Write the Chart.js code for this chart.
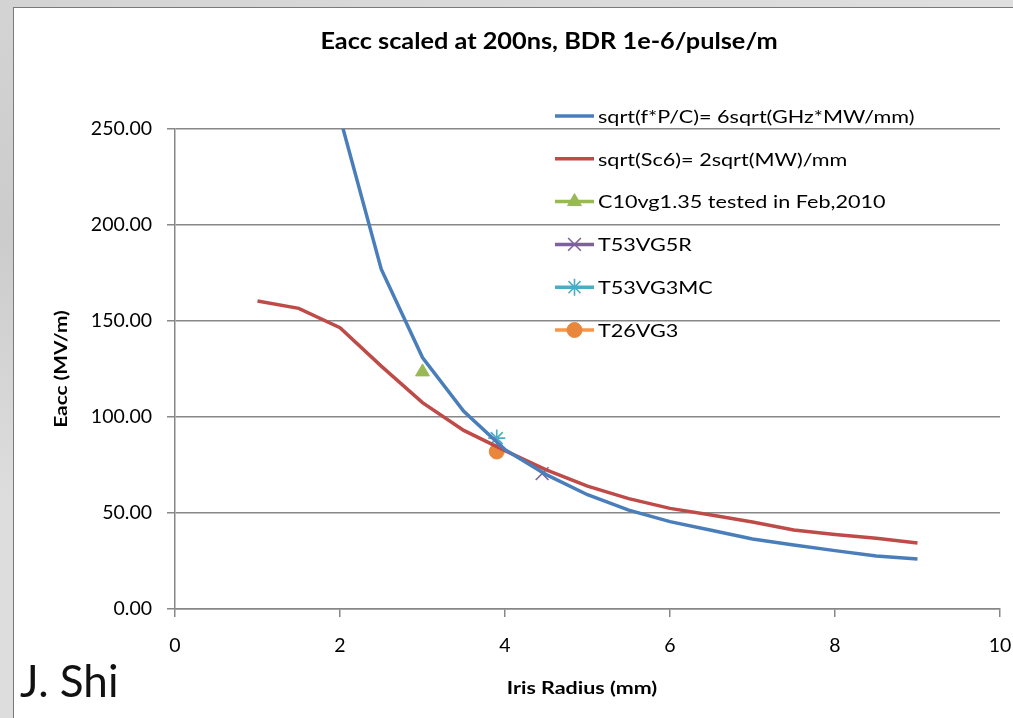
<!DOCTYPE html>
<html>
<head>
<meta charset="utf-8">
<script src="https://cdn.jsdelivr.net/npm/chart.js@4.4.1/dist/chart.umd.min.js"></script>
<style>
  html, body { margin: 0; padding: 0; }
  body {
    width: 1013px; height: 718px; overflow: hidden; position: relative;
    background:
      linear-gradient(200deg, rgba(255,255,255,0.25) 0%, rgba(255,255,255,0) 30%, rgba(160,160,160,0.18) 55%, rgba(255,255,255,0.2) 80%),
      #d5d5d5;
  }
  #panel {
    position: absolute; left: 13px; top: 7px; width: 1010px; height: 720px;
    background: #fff; border-left: 1px solid #7a7a7a; border-top: 1px solid #7a7a7a;
    box-sizing: border-box;
  }
  #wrap { position: absolute; left: 0; top: 0; width: 1013px; height: 718px; }
  #author {
    position: absolute; left: 20px; top: 658px;
    font-family: Lato, "Open Sans", sans-serif; font-size: 44px; color: #111;
    line-height: 1;
  }
</style>
</head>
<body>
<div id="panel"></div>
<div id="wrap"><canvas id="chart" width="1013" height="718"></canvas></div>
<div id="author">J. Shi</div>
<script>
// Iris radius (mm) sampling for the two scaling curves
const fpcRadius = [2, 2.5, 3, 3.5, 4, 4.5, 5, 5.5, 6, 6.5, 7, 7.5, 8, 8.5, 9];
const fpcEacc   = [256, 177, 131, 103, 83, 70, 59.5, 51.5, 45.5, 41, 36.5, 33.3, 30.4, 27.6, 26];

const sc6Radius = [1, 1.5, 2, 2.5, 3, 3.5, 4, 4.5, 5, 5.5, 6, 6.5, 7, 7.5, 8, 8.5, 9];
const sc6Eacc   = [160.4, 156.6, 146.5, 126.5, 107.5, 93, 82.5, 72.5, 64, 57.5, 52.4, 49, 45.3, 41.1, 38.8, 36.8, 34.4];

// Tested structures: [iris radius, Eacc]
const c10Radius = [3.0];   const c10Eacc = [123.5];
const t53r5Radius = [4.45]; const t53r5Eacc = [70.5];
const t53mcRadius = [3.9]; const t53mcEacc = [89];
const t26Radius = [3.9];   const t26Eacc = [82];

const seriesLabels = [
  'sqrt(f*P/C)= 6sqrt(GHz*MW/mm)',
  'sqrt(Sc6)= 2sqrt(MW)/mm',
  'C10vg1.35 tested in Feb,2010',
  'T53VG5R',
  'T53VG3MC',
  'T26VG3'
];
const yTicks = [0, 50, 100, 150, 200, 250];
const xTicks = [0, 2, 4, 6, 8, 10];
const chartTitle = 'Eacc scaled at 200ns, BDR 1e-6/pulse/m';
const xTitle = 'Iris Radius (mm)';
const yTitle = 'Eacc (MV/m)';

const toPoints = (xs, ys) => xs.map((x, i) => ({ x: x, y: ys[i] }));

const FONT = 'Lato, "Open Sans", sans-serif';
const GRID = '#878787';

// Text with a horizontal stretch factor (wide, Calibri-like proportions)
function wideText(ctx, text, x, y, sx, angle) {
  ctx.save();
  ctx.translate(x, y);
  if (angle) ctx.rotate(angle);
  ctx.scale(sx, 1);
  ctx.fillText(text, 0, 0);
  ctx.restore();
}

// Title, axis titles and the in-plot legend
const overlay = {
  id: 'overlay',
  afterDraw(chart) {
    const ctx = chart.ctx;
    const area = chart.chartArea;
    ctx.save();
    ctx.fillStyle = '#000';
    ctx.textAlign = 'center';
    ctx.textBaseline = 'middle';
    ctx.font = 'bold 22px ' + FONT;
    wideText(ctx, chartTitle, 549, 42, 1.15);

    ctx.font = 'bold 16.5px ' + FONT;
    wideText(ctx, xTitle, 582, 689, 1.3);
    wideText(ctx, yTitle, 62, (area.top + area.bottom) / 2, 1.26, -Math.PI / 2);

    const x0 = 555, x1 = 594, rowTop = 116, rowStep = 42.8;
    ctx.font = '18px ' + FONT;
    ctx.textAlign = 'left';
    chart.data.datasets.forEach((ds, i) => {
      const y = rowTop + i * rowStep;
      ctx.strokeStyle = ds.borderColor;
      ctx.lineWidth = 3.5;
      ctx.beginPath();
      ctx.moveTo(x0, y);
      ctx.lineTo(x1, y);
      ctx.stroke();
      if (ds.pointRadius > 0) {
        ctx.fillStyle = ds.pointBackgroundColor;
        ctx.strokeStyle = ds.pointBorderColor;
        ctx.lineWidth = ds.pointBorderWidth;
        Chart.helpers.drawPoint(ctx, { pointStyle: ds.pointStyle, radius: ds.pointRadius, rotation: 0, borderWidth: ds.pointBorderWidth }, (x0 + x1) / 2, y);
      }
      ctx.fillStyle = '#000';
      wideText(ctx, ds.label, 598, y + 1, 1.2);
    });
    ctx.restore();
  }
};

new Chart(document.getElementById('chart'), {
  type: 'scatter',
  data: {
    datasets: [
      {
        label: seriesLabels[0], data: toPoints(fpcRadius, fpcEacc), showLine: true,
        borderColor: '#4A7EBB', backgroundColor: '#4A7EBB', borderWidth: 3.5,
        pointRadius: 0, pointHoverRadius: 0, tension: 0
      },
      {
        label: seriesLabels[1], data: toPoints(sc6Radius, sc6Eacc), showLine: true,
        borderColor: '#BE4B48', backgroundColor: '#BE4B48', borderWidth: 3.5,
        pointRadius: 0, pointHoverRadius: 0, tension: 0
      },
      {
        label: seriesLabels[2], data: toPoints(c10Radius, c10Eacc),
        borderColor: '#98B954', pointBackgroundColor: '#98B954', pointBorderColor: '#98B954',
        pointBorderWidth: 1, pointStyle: 'triangle', pointRadius: 8
      },
      {
        label: seriesLabels[3], data: toPoints(t53r5Radius, t53r5Eacc),
        borderColor: '#7D60A0', pointBackgroundColor: '#7D60A0', pointBorderColor: '#7D60A0',
        pointBorderWidth: 1.6, pointStyle: 'crossRot', pointRadius: 9
      },
      {
        label: seriesLabels[4], data: toPoints(t53mcRadius, t53mcEacc),
        borderColor: '#4BACC6', pointBackgroundColor: '#4BACC6', pointBorderColor: '#4BACC6',
        pointBorderWidth: 1.6, pointStyle: 'star', pointRadius: 8.5
      },
      {
        label: seriesLabels[5], data: toPoints(t26Radius, t26Eacc),
        borderColor: '#F79646', pointBackgroundColor: '#E8873C', pointBorderColor: '#E8873C',
        pointBorderWidth: 1, pointStyle: 'circle', pointRadius: 7.5
      }
    ]
  },
  options: {
    responsive: false,
    animation: false,
    events: [],
    layout: { padding: { left: 0, right: 13, top: 129, bottom: 0 } },
    plugins: { legend: { display: false }, title: { display: false }, tooltip: { enabled: false } },
    scales: {
      x: {
        type: 'linear', min: 0, max: 10,
        afterFit(scale) { scale.height = 109; scale.paddingLeft = 0; scale.paddingRight = 0; },
        afterBuildTicks(scale) { scale.ticks = xTicks.map(v => ({ value: v })); },
        grid: { drawOnChartArea: false, drawTicks: true, tickLength: 8, color: GRID, lineWidth: 1.5 },
        border: { color: GRID, width: 1.5 },
        ticks: { color: '#000', font: { family: FONT, size: 19.5 }, padding: 17, callback: v => String(v) },
        title: { display: false }
      },
      y: {
        type: 'linear', min: 0, max: 250,
        afterFit(scale) { scale.width = 175; },
        afterBuildTicks(scale) { scale.ticks = yTicks.map(v => ({ value: v })); },
        grid: { drawOnChartArea: true, drawTicks: true, tickLength: 8, color: GRID, lineWidth: 1.5 },
        border: { color: GRID, width: 1.5 },
        ticks: { color: '#000', font: { family: FONT, size: 19.5 }, padding: 15, callback: v => Number(v).toFixed(2) },
        title: { display: false }
      }
    }
  },
  plugins: [overlay]
});
</script>
</body>
</html>
